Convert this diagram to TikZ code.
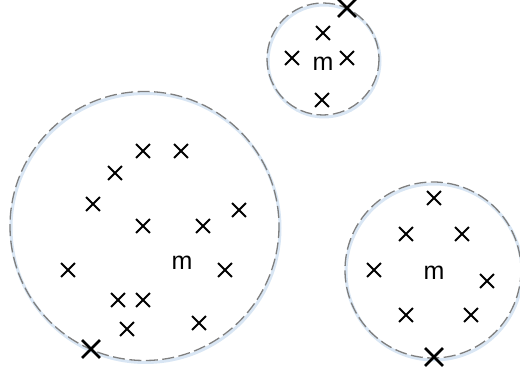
\documentclass[tikz,border=0pt]{standalone}
\usepackage{fontspec}
\setmainfont{Liberation Sans}
\usepackage{xcolor}
\usetikzlibrary{shapes.misc}
\definecolor{ringgray}{HTML}{7F7F7F}
\definecolor{glow}{HTML}{C9DCEF}

\begin{document}
\begin{tikzpicture}[
    x=1pt, y=-1pt,
    ring/.style={draw=ringgray, line width=1.3pt, dash pattern=on 12pt off 4.5pt},
    halo/.style={draw=glow, line width=3pt, opacity=0.7},
    mean/.style={font=\fontsize{25}{28}\selectfont, inner sep=0pt},
    sample/.style={cross out, draw, line width=1.8pt, minimum size=12pt, inner sep=0pt},
    centre/.style={cross out, draw, line width=2.8pt, minimum size=15pt, inner sep=0pt}
]
\useasboundingbox (0,0) rectangle (520,374);
% clusters
\draw[halo] (145.5,228) circle (134.5);
\draw[halo] (324,61) circle (56);
\draw[halo] (434,272) circle (88);
\draw[ring] (144.5,226) circle (134.5);
\draw[ring] (323,59) circle (56);
\draw[ring] (433,270) circle (88);
% means
\node[mean] (mA) at (182,263) {m};
\node[mean] (mB) at (323,64) {m};
\node[mean] (mC) at (434,273) {m};
% samples
\foreach \n/\x/\y in {a1/143/151, a2/181/151, a3/115/173, a4/93/204, a5/143/226,
    a6/203/226, a7/239/210, a8/68/270, a9/225/270, a10/118/300, a11/143/300,
    a12/127/329, a13/199/323,
    b1/323/33, b2/292/58, b3/347/58, b4/322/100,
    c1/434/198, c2/406/234, c3/462/234, c4/374/270, c5/487/281, c6/406/315,
    c7/471/315}
    \node[sample] (\n) at (\x,\y) {};
% centroids on the rings
\node[centre] (ka) at (91,349) {};
\node[centre] (kb) at (347,8) {};
\node[centre] (kc) at (434,357) {};
\end{tikzpicture}
\end{document}
